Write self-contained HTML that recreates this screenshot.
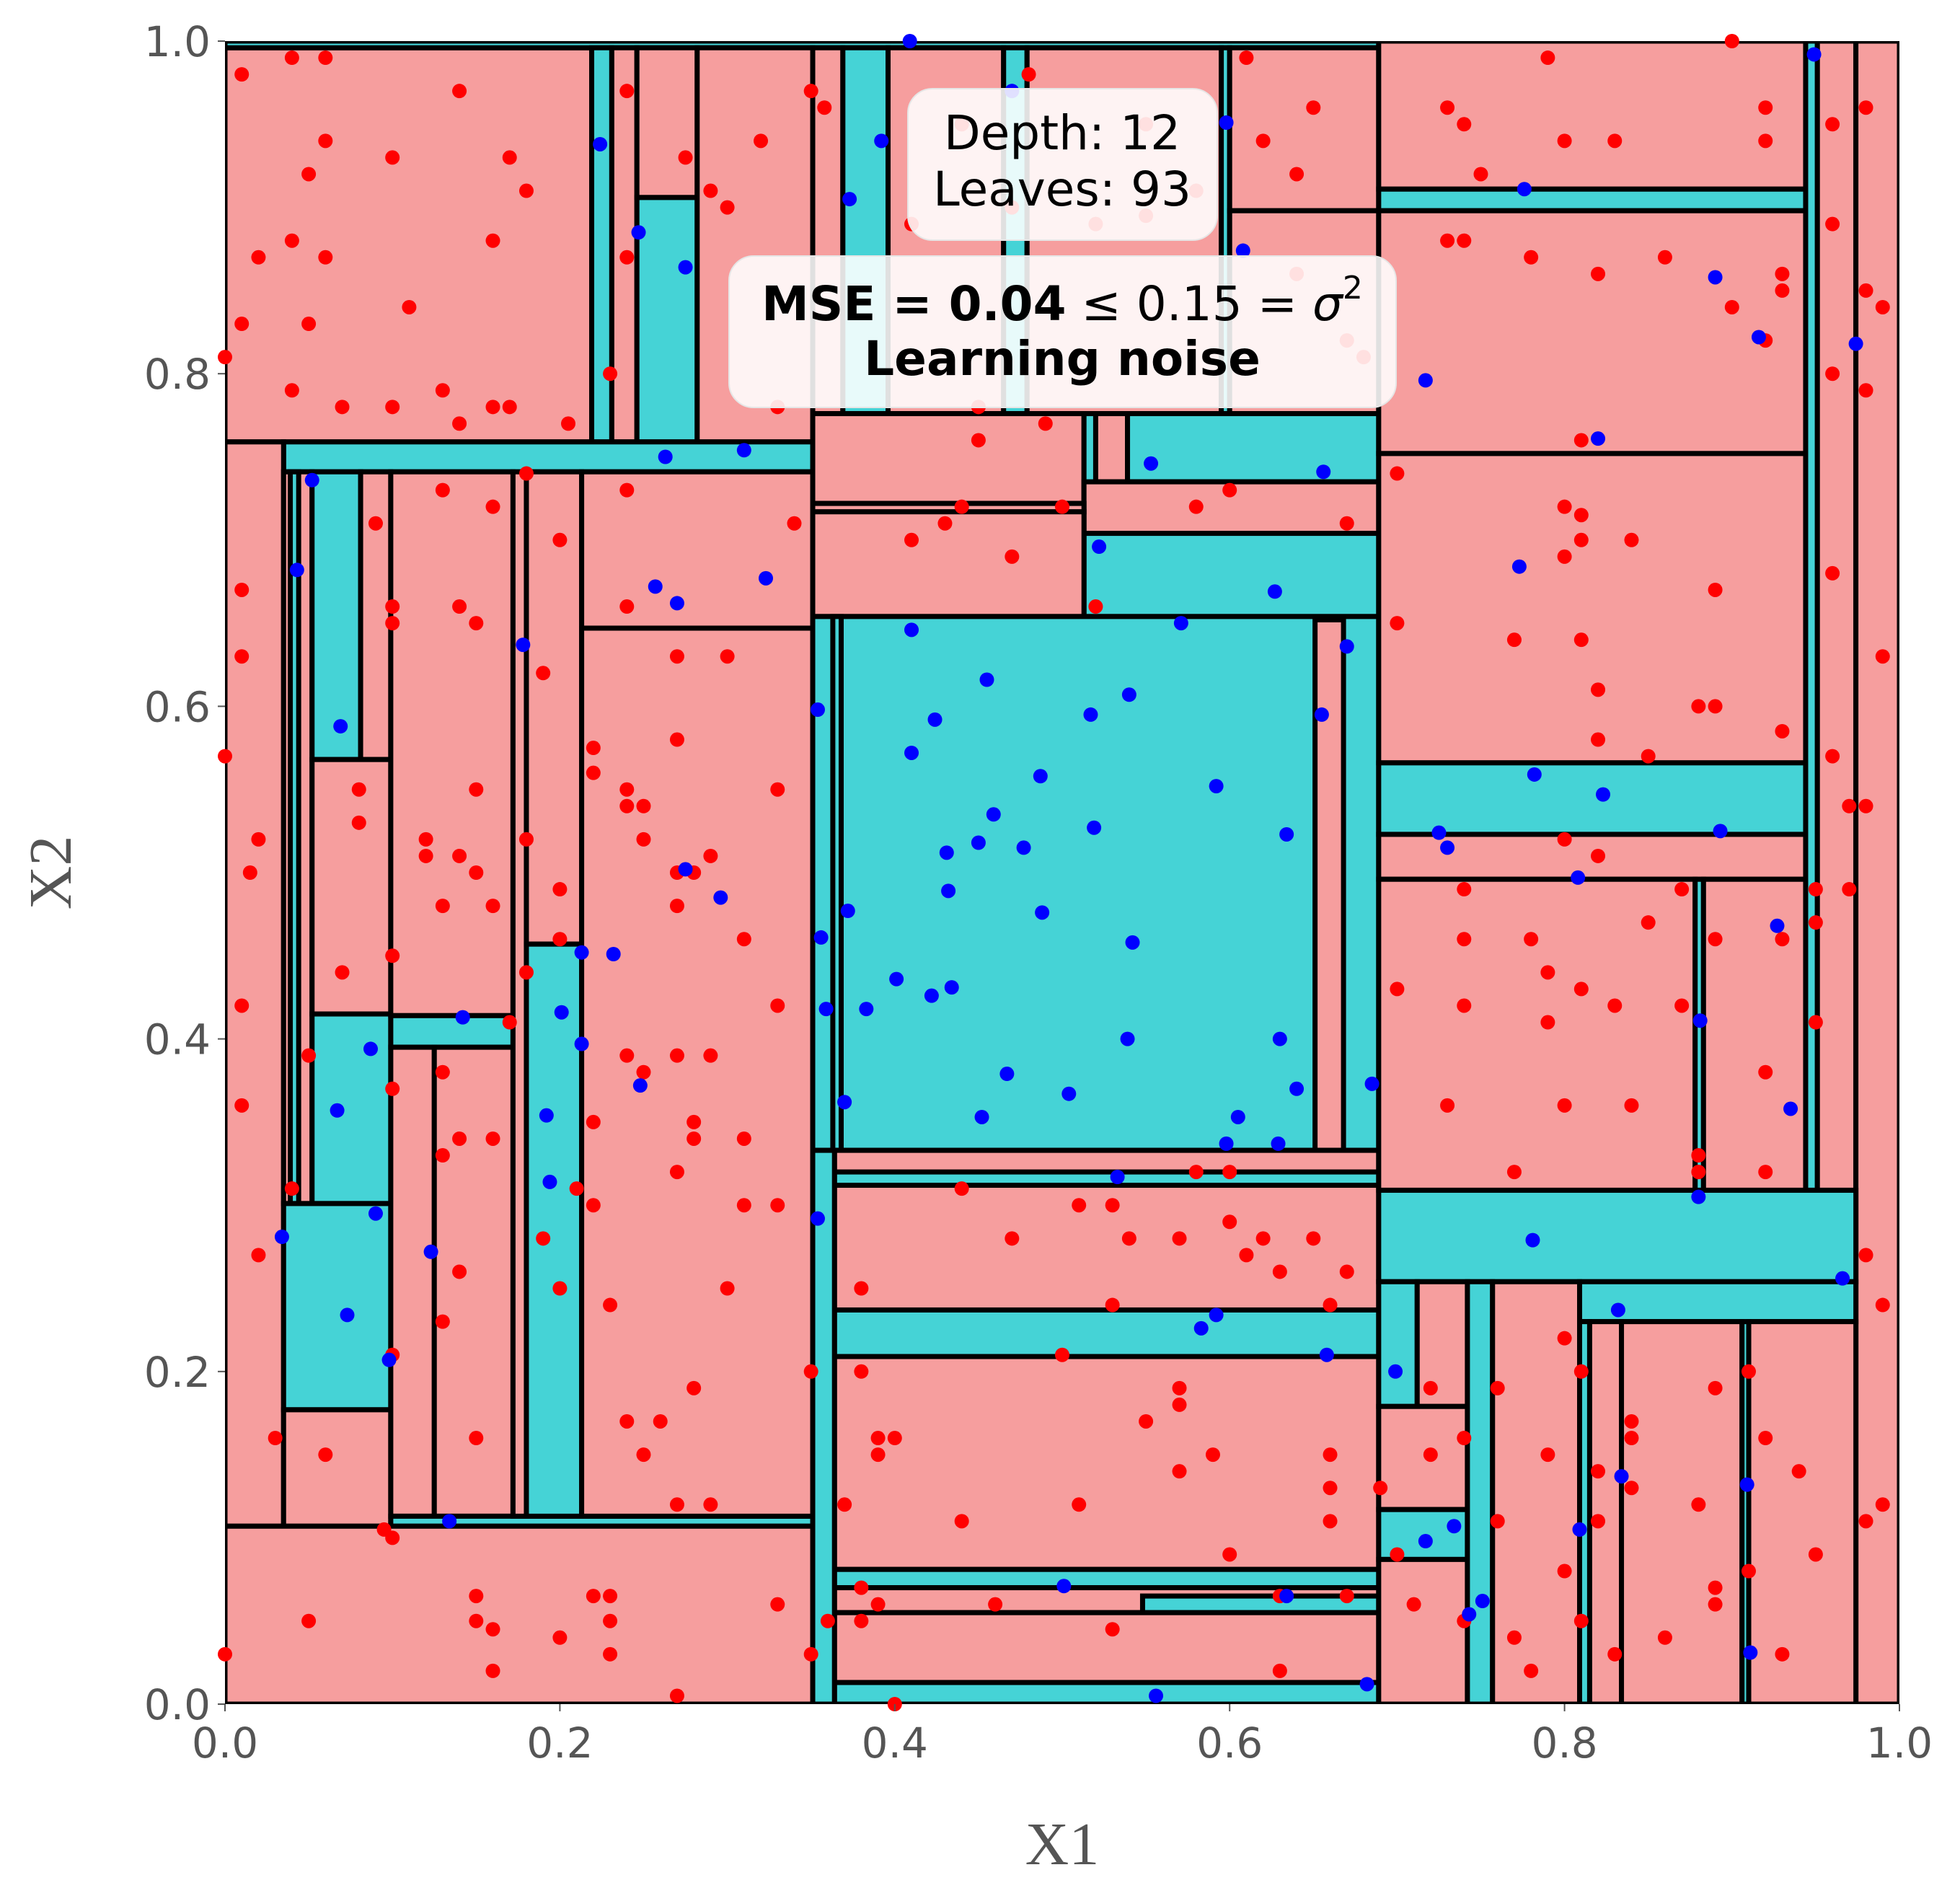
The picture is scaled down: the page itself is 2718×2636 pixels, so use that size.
<!DOCTYPE html>
<html><head><meta charset="utf-8"><style>
html,body{margin:0;padding:0;background:#fff;}
svg{display:block;}
</style></head><body>
<svg id="chart" width="2718" height="2636" viewBox="0 0 2718 2636" xmlns="http://www.w3.org/2000/svg">
<g id="leaves"></g>
<g id="points"></g>
<g id="axes"></g>
<g>
<rect x="1259" y="123" width="429" height="210" rx="34" fill="#fff" fill-opacity="0.88" stroke="#e6e6e6" stroke-width="2"/>
<text x="1473" y="207" text-anchor="middle" font-family="DejaVu Sans, Liberation Sans, sans-serif" font-size="66">Depth: 12</text>
<text x="1473" y="285" text-anchor="middle" font-family="DejaVu Sans, Liberation Sans, sans-serif" font-size="66">Leaves: 93</text>
</g>
<g>
<rect x="1011" y="355" width="925" height="210" rx="34" fill="#fff" fill-opacity="0.88" stroke="#e6e6e6" stroke-width="2"/>
<text x="1473" y="444" text-anchor="middle" font-family="DejaVu Sans, Liberation Sans, sans-serif" font-size="66"><tspan font-weight="bold">MSE = 0.04</tspan> ≤ 0.15 = <tspan font-style="italic">σ</tspan><tspan font-size="44" dy="-30">2</tspan></text>
<text x="1473" y="520" text-anchor="middle" font-family="DejaVu Sans, Liberation Sans, sans-serif" font-size="66" font-weight="bold">Learning noise</text>
</g>
<text x="1473" y="2585" text-anchor="middle" font-family="Liberation Serif, serif" font-size="84" fill="#555">X1</text>
<text x="0" y="0" transform="translate(98,1210) rotate(-90)" text-anchor="middle" font-family="Liberation Serif, serif" font-size="84" fill="#555">X2</text>
</svg>
<script>
const xTicks = [0, 0.2, 0.4, 0.6, 0.8, 1.0];
const yTicks = [0, 0.2, 0.4, 0.6, 0.8, 1.0];
const tickLabels = ["0.0","0.2","0.4","0.6","0.8","1.0"];
// leaves: [x0, x1, y0, y1, class] class 0 = red region, 1 = blue region
const leaves = [
[0,0.219,0.759,0.996,0],[0,0.689,0.996,1,1],
[0.219,0.231,0.759,0.996,1],[0.231,0.246,0.759,0.996,0],[0.246,0.282,0.759,0.906,1],[0.246,0.282,0.906,0.996,0],[0.282,0.351,0.759,0.996,0],
[0.035,0.351,0.741,0.759,1],[0,0.035,0.107,0.759,0],
[0.035,0.052,0.301,0.741,0],[0.039,0.044,0.301,0.741,1],
[0.052,0.081,0.568,0.741,1],[0.081,0.099,0.568,0.741,0],[0.052,0.099,0.415,0.568,0],[0.052,0.099,0.301,0.415,1],[0.035,0.099,0.177,0.301,1],[0.035,0.099,0.107,0.177,0],
[0.099,0.172,0.414,0.741,0],[0.099,0.172,0.395,0.414,1],[0.099,0.125,0.113,0.395,0],[0.125,0.172,0.113,0.395,0],
[0.099,0.351,0.107,0.113,1],
[0.172,0.180,0.113,0.741,0],[0.180,0.213,0.457,0.741,0],[0.180,0.213,0.113,0.457,1],
[0.213,0.351,0.647,0.741,0],[0.213,0.351,0.113,0.647,0],
[0,0.351,0,0.107,0],
[0.351,0.369,0.776,0.996,0],[0.369,0.396,0.776,0.996,1],[0.396,0.465,0.776,0.996,0],[0.465,0.479,0.776,0.996,1],[0.479,0.595,0.776,0.996,0],[0.595,0.600,0.776,0.996,1],[0.600,0.689,0.898,0.996,0],[0.600,0.689,0.776,0.898,0],
[0.351,0.513,0.722,0.776,0],[0.513,0.52,0.72,0.776,1],[0.52,0.539,0.735,0.776,0],[0.539,0.689,0.735,0.776,1],
[0.513,0.689,0.704,0.735,0],[0.513,0.689,0.654,0.704,1],[0.351,0.513,0.654,0.717,0],[0.351,0.513,0.717,0.722,0],
[0.351,0.689,0.333,0.654,1],[0.651,0.668,0.333,0.652,0],[0.363,0.368,0.333,0.654,1],
[0.364,0.689,0.237,0.333,0],[0.364,0.689,0.312,0.320,1],[0.364,0.689,0.209,0.237,1],[0.364,0.689,0.081,0.209,0],[0.364,0.689,0.070,0.081,1],[0.364,0.689,0.055,0.070,0],[0.548,0.689,0.055,0.065,1],[0.364,0.689,0.013,0.055,0],[0.364,0.689,0,0.013,1],[0.351,0.364,0,0.333,1],
[0.689,0.944,0.911,1,0],[0.689,0.944,0.898,0.911,1],[0.689,0.944,0.752,0.898,0],[0.689,0.944,0.566,0.752,0],[0.689,0.944,0.523,0.566,1],[0.689,0.944,0.496,0.523,0],[0.689,0.878,0.309,0.496,0],[0.878,0.883,0.309,0.496,1],[0.883,0.944,0.309,0.496,0],
[0.944,0.951,0.309,1,1],[0.951,0.974,0.309,1,0],[0.974,1,0,1,0],
[0.689,0.974,0.254,0.309,1],
[0.689,0.712,0.179,0.254,1],[0.712,0.742,0.179,0.254,0],[0.689,0.742,0.117,0.179,0],[0.689,0.742,0.087,0.117,1],[0.689,0.742,0,0.087,0],[0.742,0.757,0,0.254,1],[0.757,0.809,0,0.254,0],[0.809,0.974,0.230,0.254,1],[0.809,0.815,0,0.230,1],[0.815,0.834,0,0.230,0],[0.834,0.906,0,0.230,0],[0.906,0.910,0,0.230,1],[0.910,0.974,0,0.230,0]
];
const bluePts = [[0.41,0.646],[0.455,0.616],[0.424,0.592],[0.41,0.572],[0.487,0.558],[0.54,0.607],[0.517,0.595],[0.592,0.552],[0.634,0.523],[0.519,0.527],[0.459,0.535],[0.477,0.515],[0.431,0.512],[0.45,0.518],[0.432,0.489],[0.488,0.476],[0.542,0.458],[0.401,0.436],[0.422,0.426],[0.434,0.431],[0.383,0.418],[0.359,0.418],[0.372,0.477],[0.356,0.461],[0.467,0.379],[0.504,0.367],[0.452,0.353],[0.539,0.4],[0.63,0.4],[0.64,0.37],[0.605,0.353],[0.598,0.337],[0.629,0.337],[0.571,0.65],[0.655,0.595],[0.354,0.598],[0.296,0.485],[0.275,0.502],[0.248,0.372],[0.232,0.451],[0.213,0.452],[0.213,0.397],[0.201,0.416],[0.192,0.354],[0.194,0.314],[0.09,0.295],[0.087,0.394],[0.067,0.357],[0.069,0.588],[0.043,0.682],[0.052,0.736],[0.073,0.234],[0.034,0.281],[0.098,0.207],[0.123,0.272],[0.134,0.11],[0.142,0.413],[0.178,0.637],[0.257,0.672],[0.27,0.662],[0.323,0.677],[0.31,0.754],[0.263,0.75],[0.275,0.864],[0.247,0.885],[0.224,0.938],[0.373,0.905],[0.392,0.94],[0.47,0.97],[0.409,1.0],[0.598,0.951],[0.608,0.874],[0.656,0.741],[0.627,0.669],[0.522,0.696],[0.553,0.746],[0.67,0.636],[0.685,0.373],[0.658,0.21],[0.634,0.065],[0.501,0.071],[0.556,0.005],[0.592,0.234],[0.583,0.226],[0.533,0.317],[0.354,0.292],[0.37,0.362],[0.699,0.2],[0.717,0.098],[0.734,0.107],[0.743,0.054],[0.751,0.062],[0.781,0.279],[0.832,0.237],[0.834,0.137],[0.809,0.105],[0.88,0.305],[0.909,0.132],[0.911,0.031],[0.935,0.358],[0.927,0.468],[0.881,0.411],[0.893,0.525],[0.808,0.497],[0.782,0.559],[0.823,0.547],[0.773,0.684],[0.73,0.515],[0.725,0.524],[0.717,0.796],[0.82,0.761],[0.89,0.858],[0.916,0.822],[0.974,0.818],[0.949,0.992],[0.776,0.911],[0.966,0.256],[0.682,0.012]];
const redPts = [[0.06,0.99],[0.04,0.99],[0.01,0.98],[0.1,0.93],[0.14,0.97],[0.05,0.92],[0.06,0.94],[0.17,0.93],[0.18,0.91],[0.02,0.87],[0.04,0.88],[0.06,0.87],[0.16,0.88],[0.01,0.83],[0.05,0.83],[0.11,0.84],[0.0,0.81],[0.04,0.79],[0.13,0.79],[0.07,0.78],[0.1,0.78],[0.14,0.77],[0.16,0.78],[0.17,0.78],
[0.205,0.77],[0.24,0.97],[0.24,0.87],[0.23,0.80],[0.275,0.93],[0.29,0.91],[0.3,0.90],[0.32,0.94],[0.33,0.78],[0.35,0.97],[0.358,0.96],
[0.01,0.67],[0.01,0.63],[0.0,0.57],[0.02,0.52],[0.015,0.5],[0.01,0.42],[0.01,0.36],[0.02,0.27],[0.03,0.16],[0.06,0.15],[0.04,0.31],[0.05,0.39],
[0.09,0.71],[0.1,0.66],[0.1,0.65],[0.08,0.55],[0.08,0.53],[0.07,0.44],[0.1,0.45],[0.1,0.37],[0.1,0.21],[0.1,0.1],[0.095,0.105],
[0.13,0.73],[0.12,0.52],[0.12,0.51],[0.14,0.51],[0.15,0.5],[0.13,0.48],[0.14,0.66],[0.15,0.65],[0.16,0.72],[0.15,0.55],[0.16,0.48],[0.17,0.41],[0.16,0.34],[0.13,0.38],[0.13,0.33],[0.14,0.34],[0.14,0.26],[0.13,0.23],[0.15,0.16],[0.18,0.74],[0.2,0.7],[0.19,0.62],[0.18,0.52],[0.2,0.49],[0.2,0.46],[0.18,0.44],[0.19,0.28],[0.2,0.25],
[0.22,0.56],[0.22,0.575],[0.24,0.55],[0.24,0.54],[0.25,0.52],[0.25,0.54],[0.27,0.5],[0.27,0.48],[0.27,0.58],[0.28,0.5],[0.29,0.51],[0.27,0.63],[0.3,0.63],[0.33,0.55],[0.31,0.46],[0.34,0.71],[0.24,0.66],[0.24,0.73],[0.25,0.38],[0.24,0.39],[0.27,0.39],[0.29,0.39],[0.28,0.34],[0.28,0.35],[0.27,0.32],[0.31,0.34],[0.22,0.35],[0.21,0.31],[0.22,0.3],[0.31,0.3],[0.33,0.3],[0.33,0.42],[0.3,0.25],[0.23,0.24],[0.24,0.17],[0.26,0.17],[0.25,0.15],[0.28,0.19],[0.27,0.12],[0.29,0.12],[0.35,0.2],
[0.0,0.03],[0.05,0.05],[0.15,0.065],[0.15,0.05],[0.16,0.045],[0.16,0.02],[0.2,0.04],[0.22,0.065],[0.23,0.065],[0.23,0.05],[0.23,0.03],[0.27,0.005],[0.33,0.06],[0.35,0.03],
[0.45,0.78],[0.45,0.76],[0.49,0.77],[0.5,0.72],[0.41,0.7],[0.43,0.71],[0.47,0.69],[0.44,0.72],[0.58,0.72],[0.6,0.73],[0.67,0.71],[0.52,0.66],[0.55,0.95],[0.52,0.89],[0.55,0.895],[0.58,0.91],[0.62,0.94],[0.64,0.92],[0.65,0.96],[0.61,0.99],[0.64,0.86],[0.48,0.98],[0.44,0.95],[0.41,0.89],[0.47,0.9],[0.68,0.81],[0.67,0.82],
[0.44,0.31],[0.51,0.3],[0.53,0.3],[0.54,0.28],[0.57,0.28],[0.62,0.28],[0.6,0.29],[0.65,0.28],[0.61,0.27],[0.63,0.26],[0.67,0.26],[0.47,0.28],[0.38,0.25],[0.53,0.24],[0.58,0.32],[0.6,0.32],[0.66,0.24],
[0.38,0.2],[0.39,0.16],[0.39,0.15],[0.4,0.16],[0.37,0.12],[0.44,0.11],[0.5,0.21],[0.55,0.17],[0.57,0.18],[0.57,0.19],[0.57,0.14],[0.59,0.15],[0.66,0.15],[0.66,0.13],[0.66,0.11],[0.69,0.13],[0.6,0.09],[0.51,0.12],[0.38,0.07],[0.39,0.06],[0.38,0.05],[0.36,0.05],[0.46,0.06],[0.53,0.045],[0.63,0.065],[0.67,0.065],[0.63,0.02],[0.4,0.0],
[0.73,0.96],[0.74,0.95],[0.75,0.92],[0.79,0.99],[0.8,0.94],[0.83,0.94],[0.9,1.0],[0.92,0.96],[0.92,0.94],[0.73,0.88],[0.74,0.88],[0.78,0.87],[0.82,0.86],[0.86,0.87],[0.93,0.86],[0.93,0.85],[0.9,0.84],[0.92,0.82],[0.7,0.74],[0.7,0.65],[0.81,0.76],[0.8,0.72],[0.81,0.715],[0.81,0.7],[0.8,0.69],[0.84,0.7],[0.89,0.67],[0.77,0.64],[0.81,0.64],[0.82,0.61],[0.82,0.58],[0.85,0.57],[0.89,0.6],[0.88,0.6],[0.93,0.585],[0.8,0.52],[0.82,0.51],[0.74,0.49],[0.74,0.46],[0.78,0.46],[0.79,0.44],[0.81,0.43],[0.74,0.42],[0.79,0.41],[0.8,0.36],[0.84,0.36],[0.83,0.42],[0.85,0.47],[0.87,0.42],[0.87,0.49],[0.7,0.43],[0.73,0.36],[0.77,0.32],[0.88,0.32],[0.88,0.33],[0.92,0.32],[0.92,0.38],[0.93,0.46],[0.89,0.46],[0.95,0.47],[0.95,0.49],[0.97,0.49],[0.96,0.57],[0.96,0.68],[0.96,0.8],[0.98,0.85],[0.98,0.79],[0.99,0.84],[0.98,0.96],[0.96,0.95],[0.96,0.89],[0.99,0.63],[0.97,0.54],[0.98,0.54],[0.95,0.41],[0.98,0.27],[0.99,0.24],[0.98,0.11],[0.99,0.12],[0.95,0.09],
[0.7,0.09],[0.71,0.06],[0.72,0.19],[0.72,0.15],[0.74,0.16],[0.74,0.05],[0.76,0.19],[0.76,0.11],[0.77,0.04],[0.78,0.02],[0.79,0.15],[0.8,0.22],[0.81,0.2],[0.81,0.05],[0.8,0.08],[0.82,0.11],[0.82,0.14],[0.83,0.03],[0.84,0.13],[0.84,0.16],[0.84,0.17],[0.86,0.04],[0.88,0.12],[0.89,0.19],[0.89,0.07],[0.89,0.06],[0.91,0.2],[0.92,0.16],[0.91,0.08],[0.93,0.03],[0.94,0.14]];

const NS = "http://www.w3.org/2000/svg";
const PX0 = 312, PX1 = 2634, PY0 = 2363, PY1 = 57;
function sx(v){ return PX0 + v*(PX1-PX0); }
function sy(v){ return PY0 - v*(PY0-PY1); }
const gL = document.getElementById('leaves');
const gP = document.getElementById('points');
const gA = document.getElementById('axes');
leaves.forEach(function(l){
  const r = document.createElementNS(NS,'rect');
  
  
  const x = sx(l[0]), x2 = sx(l[1]), y = sy(l[3]), y2 = sy(l[2]);
  r.setAttribute('x', x); r.setAttribute('y', y);
  r.setAttribute('width', Math.max(0, x2-x)); r.setAttribute('height', Math.max(0, y2-y));
  r.setAttribute('fill', l[4] ? '#45d3d6' : '#f69e9e');
  r.setAttribute('stroke', '#000'); r.setAttribute('stroke-width', '7');
  gL.appendChild(r);
});
const clipR = document.createElementNS(NS,'path');


clipR.setAttribute('fill','#fff');
clipR.setAttribute('fill-rule','evenodd');
clipR.setAttribute('d','M0 0H2718V2636H0Z M'+PX0+' '+PY1+'H'+PX1+'V'+PY0+'H'+PX0+'Z');
gL.appendChild(clipR);
function dot(p, col, name){
  const c = document.createElementNS(NS,'circle');
  
  
  c.setAttribute('cx', sx(p[0])); c.setAttribute('cy', sy(p[1])); c.setAttribute('r', 10);
  c.setAttribute('fill', col);
  gP.appendChild(c);
}
redPts.forEach(function(p){ dot(p, '#ff0000', 'red-point'); });
bluePts.forEach(function(p){ dot(p, '#0000ff', 'blue-point'); });
xTicks.forEach(function(v,i){
  const t = document.createElementNS(NS,'line');
  
  
  t.setAttribute('x1',sx(v)); t.setAttribute('x2',sx(v)); t.setAttribute('y1',PY0); t.setAttribute('y2',PY0+10);
  t.setAttribute('stroke','#555'); t.setAttribute('stroke-width','2');
  gA.appendChild(t);
  const lb = document.createElementNS(NS,'text');
  
  
  lb.setAttribute('x',sx(v)); lb.setAttribute('y',PY0+74);
  lb.setAttribute('text-anchor','middle');
  lb.setAttribute('font-family','DejaVu Sans, Liberation Sans, sans-serif');
  lb.setAttribute('font-size','58'); lb.setAttribute('fill','#555');
  lb.textContent = tickLabels[i];
  gA.appendChild(lb);
});
yTicks.forEach(function(v,i){
  const t = document.createElementNS(NS,'line');
  
  
  t.setAttribute('x1',PX0-10); t.setAttribute('x2',PX0); t.setAttribute('y1',sy(v)); t.setAttribute('y2',sy(v));
  t.setAttribute('stroke','#555'); t.setAttribute('stroke-width','2');
  gA.appendChild(t);
  const lb = document.createElementNS(NS,'text');
  
  
  lb.setAttribute('x',PX0-20); lb.setAttribute('y',sy(v)+21);
  lb.setAttribute('text-anchor','end');
  lb.setAttribute('font-family','DejaVu Sans, Liberation Sans, sans-serif');
  lb.setAttribute('font-size','58'); lb.setAttribute('fill','#555');
  lb.textContent = tickLabels[i];
  gA.appendChild(lb);
});
</script>
</body></html>
